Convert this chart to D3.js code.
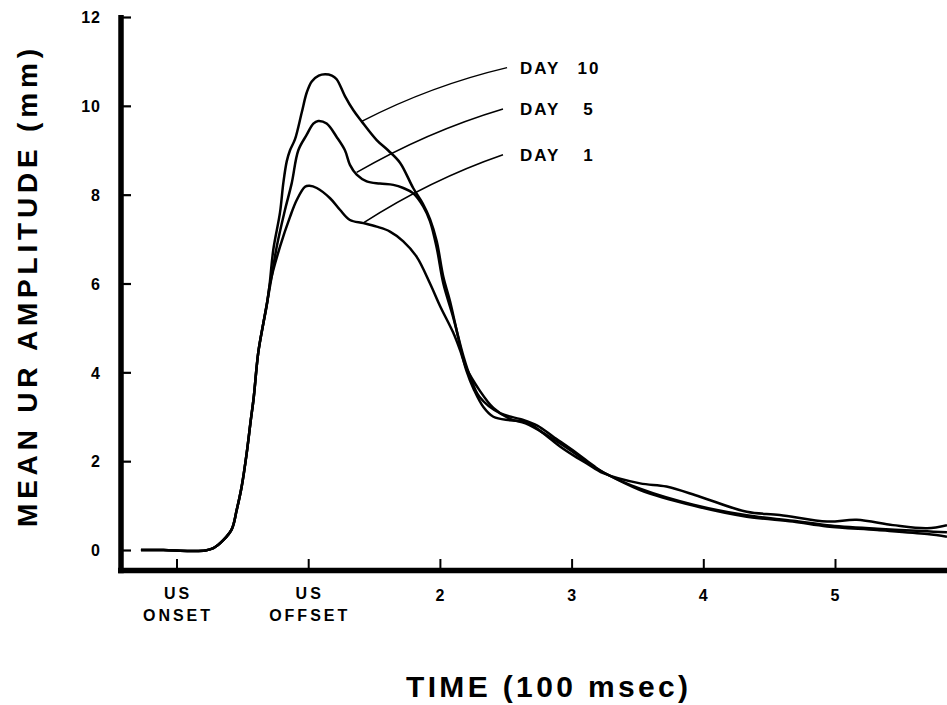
<!DOCTYPE html>
<html>
<head>
<meta charset="utf-8">
<script src="https://cdn.jsdelivr.net/npm/d3@7"></script>
<style>
  html, body { margin: 0; padding: 0; background: #fff; }
  svg { display: block; }
  text { font-family: "Liberation Sans", Arial, sans-serif; font-weight: bold; fill: #000; }
</style>
</head>
<body>
<svg id="chart" width="947" height="705"></svg>
<script>
// Time in units of 100 msec (0 = US onset, 1 = US offset); amplitude in mm.
const riseSegment = [
  [-0.27, 0.00], [-0.10, 0.00], [0.10, -0.02], [0.22, -0.01], [0.28, 0.04],
  [0.355, 0.22], [0.42, 0.47], [0.457, 0.90], [0.495, 1.43], [0.533, 2.18],
  [0.563, 2.90], [0.585, 3.40], [0.621, 4.45], [0.659, 5.10]
];

const day10 = [
  [0.700, 5.80], [0.735, 6.76], [0.786, 7.60], [0.811, 8.26], [0.837, 8.75],
  [0.862, 9.00], [0.900, 9.25], [0.951, 9.85], [0.989, 10.30], [1.027, 10.55],
  [1.080, 10.68], [1.128, 10.71], [1.180, 10.68], [1.216, 10.60], [1.279, 10.22],
  [1.343, 9.90], [1.406, 9.65], [1.520, 9.23], [1.606, 9.00], [1.697, 8.72],
  [1.797, 8.15], [1.870, 7.80], [1.925, 7.45], [1.976, 6.95], [2.026, 6.15],
  [2.077, 5.60], [2.153, 4.60], [2.200, 4.05], [2.260, 3.60], [2.330, 3.22],
  [2.406, 3.00], [2.532, 2.92], [2.659, 2.88], [2.785, 2.63], [2.912, 2.33],
  [3.040, 2.08], [3.115, 1.95], [3.240, 1.73], [3.520, 1.50], [3.720, 1.43],
  [3.975, 1.20], [4.330, 0.86], [4.580, 0.79], [4.940, 0.64], [5.165, 0.68],
  [5.440, 0.56], [5.700, 0.49], [5.850, 0.56]
];

const day5 = [
  [0.690, 5.60], [0.723, 6.16], [0.761, 6.83], [0.824, 7.66], [0.875, 8.26],
  [0.925, 9.00], [0.989, 9.35], [1.039, 9.60], [1.076, 9.66], [1.140, 9.60],
  [1.216, 9.30], [1.279, 9.00], [1.317, 8.67], [1.368, 8.45], [1.444, 8.30],
  [1.545, 8.25], [1.646, 8.22], [1.722, 8.15], [1.798, 8.03], [1.874, 7.73],
  [1.925, 7.40], [1.976, 6.80], [2.026, 6.00], [2.100, 5.25], [2.180, 4.35],
  [2.230, 3.90], [2.300, 3.45], [2.456, 3.08], [2.633, 2.93], [2.740, 2.80],
  [2.861, 2.55], [3.040, 2.18], [3.165, 1.90], [3.240, 1.75], [3.520, 1.38],
  [3.924, 1.02], [4.330, 0.78], [4.680, 0.66], [4.940, 0.56], [5.320, 0.48],
  [5.700, 0.42], [5.850, 0.40]
];

const day1 = [
  [0.685, 5.50], [0.710, 6.00], [0.786, 6.83], [0.862, 7.50], [0.913, 7.88],
  [0.976, 8.18], [1.010, 8.20], [1.065, 8.15], [1.166, 7.92], [1.241, 7.66],
  [1.317, 7.43], [1.419, 7.36], [1.520, 7.28], [1.621, 7.17], [1.722, 6.95],
  [1.824, 6.60], [1.925, 6.00], [2.000, 5.50], [2.100, 4.90], [2.153, 4.50],
  [2.200, 4.10], [2.300, 3.60], [2.406, 3.20], [2.532, 2.95], [2.650, 2.85],
  [2.811, 2.59], [2.988, 2.25], [3.165, 1.88], [3.240, 1.75], [3.520, 1.35],
  [3.924, 1.00], [4.330, 0.75], [4.680, 0.64], [4.940, 0.53], [5.320, 0.45],
  [5.700, 0.36], [5.850, 0.30]
];

const seriesNames = ["DAY 10", "DAY 5", "DAY 1"];
const seriesNumbers = ["10", "5", "1"];
// Leader from a point on each curve to its label: [t, mm] start, [t, mm] end.
const leaderStarts = [[1.406, 9.65], [1.368, 8.50], [1.416, 7.36]];
const leaderEnds = [[2.51, 10.86], [2.479, 9.93], [2.479, 8.90]];

const yTicks = [0, 2, 4, 6, 8, 10, 12];
const xTicks = [0, 1, 2, 3, 4, 5];
const xTickLabels = [["US", "ONSET"], ["US", "OFFSET"], ["2"], ["3"], ["4"], ["5"]];

const yTitle = "MEAN UR AMPLITUDE (mm)";
const xTitle = "TIME (100 msec)";

const svg = d3.select("#chart");

const x = d3.scaleLinear().domain([0, 5]).range([176.5, 835]);
const y = d3.scaleLinear().domain([0, 12]).range([550, 17]);

const axisX = 121;        // vertical axis position
const baseY = 570.5;      // horizontal axis position

// Y axis: ticks point inward, labels to the left
const yAxis = d3.axisLeft(y)
  .tickValues(yTicks)
  .tickSizeInner(-10)
  .tickSizeOuter(0)
  .tickPadding(20)
  .tickFormat(d3.format("d"));

const gy = svg.append("g")
  .attr("transform", `translate(${axisX},0)`)
  .call(yAxis);
gy.select(".domain").remove();
gy.selectAll(".tick line").attr("stroke", "#000").attr("stroke-width", 2.2);
gy.selectAll(".tick text")
  .style("font-size", "16px")
  .style("letter-spacing", "1px")
  .attr("dy", "0.36em");

svg.append("line")
  .attr("x1", axisX).attr("x2", axisX)
  .attr("y1", y(12) - 2).attr("y2", baseY + 2.8)
  .attr("stroke", "#000").attr("stroke-width", 5.5);

// X axis
const xAxis = d3.axisBottom(x)
  .tickValues(xTicks)
  .tickSizeInner(-9)
  .tickSizeOuter(0)
  .tickFormat(() => "");

const gx = svg.append("g")
  .attr("transform", `translate(0,${baseY - 2.5})`)
  .call(xAxis);
gx.select(".domain").remove();
gx.selectAll(".tick line").attr("stroke", "#000").attr("stroke-width", 2);

svg.append("line")
  .attr("x1", axisX - 3).attr("x2", 947)
  .attr("y1", baseY).attr("y2", baseY)
  .attr("stroke", "#000").attr("stroke-width", 5.5);

// Tick labels below the axis (one or two lines)
const xl = svg.append("g");
xTicks.forEach((v, i) => {
  const lines = xTickLabels[i];
  const t = xl.append("text")
    .attr("x", x(v))
    .attr("text-anchor", "middle")
    .style("font-size", "16px")
    .style("letter-spacing", lines.length > 1 ? "3px" : "0px");
  lines.forEach((s, j) => {
    t.append("tspan")
      .attr("x", x(v) + (lines.length > 1 ? 1.5 : 0))
      .attr("y", (lines.length > 1 ? 599 : 601) + j * 22)
      .text(s);
  });
});

// Curves
const line = d3.line()
  .x(d => x(d[0]))
  .y(d => y(d[1]))
  .curve(d3.curveCatmullRom.alpha(0.5));

[day1, day5, day10].forEach(s => {
  svg.append("path")
    .datum(riseSegment.concat(s))
    .attr("d", line)
    .attr("fill", "none")
    .attr("stroke", "#000")
    .attr("stroke-width", 2.5)
    .attr("stroke-linejoin", "round");
});

// Leaders and series labels
seriesNames.forEach((name, i) => {
  const x0 = x(leaderStarts[i][0]), y0 = y(leaderStarts[i][1]);
  const x1 = x(leaderEnds[i][0]), y1 = y(leaderEnds[i][1]);
  const mx = (x0 + x1) / 2, my = (y0 + y1) / 2;
  const p = d3.path();
  p.moveTo(x0, y0);
  p.quadraticCurveTo(mx - 3, my - 9, x1, y1);
  svg.append("path")
    .attr("d", p.toString())
    .attr("fill", "none")
    .attr("stroke", "#000")
    .attr("stroke-width", 1.5);

  const lbl = svg.append("text")
    .attr("y", y1 + 6)
    .style("font-size", "17px")
    .style("letter-spacing", "2px");
  lbl.append("tspan").attr("x", 520).text("DAY");
  lbl.append("tspan").attr("x", 589).attr("text-anchor", "middle").text(seriesNumbers[i]);
});

// Axis titles
svg.append("text")
  .attr("transform", "translate(37,288) rotate(-90)")
  .attr("text-anchor", "middle")
  .attr("textLength", 478)
  .attr("lengthAdjust", "spacing")
  .style("font-size", "28px")
  .text(yTitle);

svg.append("text")
  .attr("x", 547)
  .attr("y", 697)
  .attr("text-anchor", "middle")
  .attr("textLength", 282)
  .attr("lengthAdjust", "spacing")
  .style("font-size", "30px")
  .text(xTitle);
</script>
</body>
</html>
